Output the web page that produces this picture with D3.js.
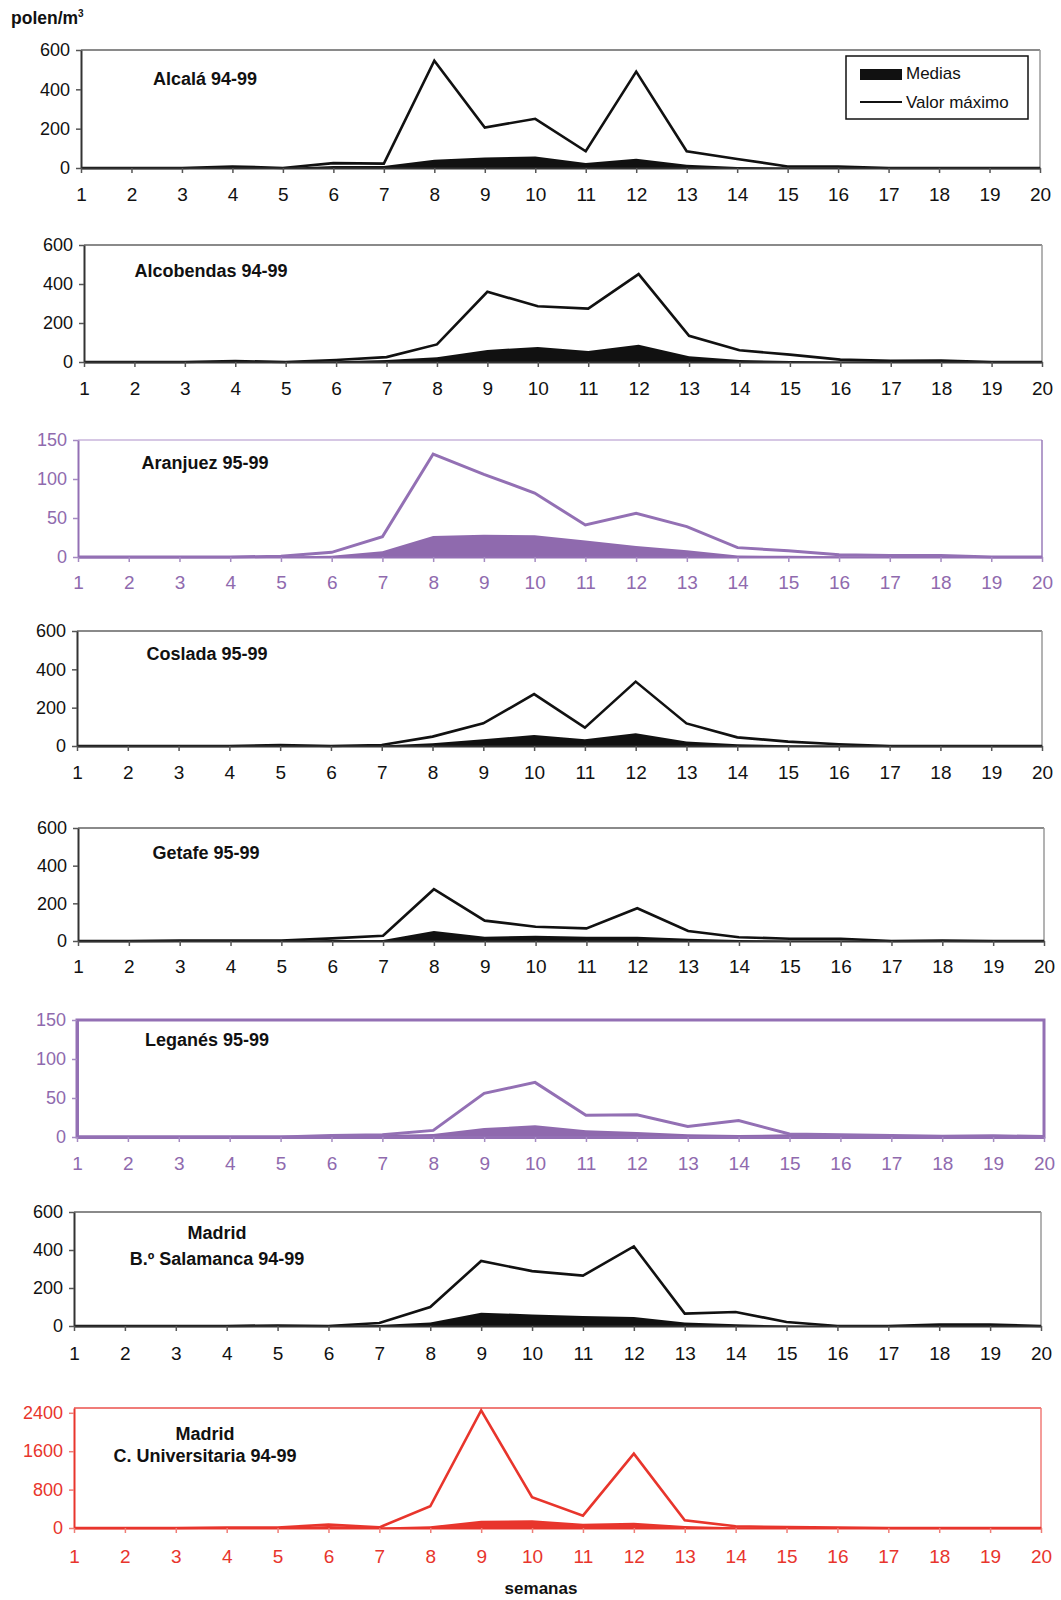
<!DOCTYPE html>
<html>
<head>
<meta charset="utf-8">
<script src="https://cdnjs.cloudflare.com/ajax/libs/d3/7.8.5/d3.min.js"></script>
<style>
	body { margin: 0; background: #fff; }
	svg { display: block; font-family: "Liberation Sans", Arial, sans-serif; }
</style>
</head>
<body>
<div id="chart"></div>
<script>
// Weeks (x axis)
var semanas = [1, 2, 3, 4, 5, 6, 7, 8, 9, 10, 11, 12, 13, 14, 15, 16, 17, 18, 19, 20];

// Alcalá 94-99
var alcalaMax    = [0, 0, 0, 8, 0, 25, 22, 546, 206, 250, 85, 490, 85, 46, 8, 8, 0, 0, 0, 0];
var alcalaMedias = [0, 0, 0, 3, 0, 10, 10, 42, 54, 59, 25, 47, 17, 5, 2, 2, 0, 0, 0, 0];

// Alcobendas 94-99
var alcobendasMax    = [0, 0, 0, 5, 0, 10, 25, 90, 360, 286, 274, 451, 134, 60, 38, 12, 6, 8, 0, 0];
var alcobendasMedias = [0, 0, 0, 2, 0, 4, 10, 25, 62, 77, 57, 89, 29, 10, 5, 3, 3, 4, 0, 0];

// Aranjuez 95-99
var aranjuezMax    = [0, 0, 0, 0, 1, 6, 26, 132, 106, 82, 41, 56, 39, 12, 8, 3, 2, 2, 0, 0];
var aranjuezMedias = [0, 0, 0, 0, 0.5, 1.5, 7.5, 27, 28.5, 28, 21, 14, 8.5, 2, 1.5, 1, 0.5, 0.5, 0, 0];

// Coslada 95-99
var cosladaMax    = [0, 0, 0, 0, 5, 0, 5, 49, 118, 271, 96, 336, 118, 45, 23, 9, 0, 0, 0, 0];
var cosladaMedias = [0, 0, 0, 0, 2, 0, 3, 14, 35, 57, 35, 66, 24, 9, 4, 2, 0, 0, 0, 0];

// Getafe 95-99
var getafeMax    = [0, 0, 2, 2, 2, 14, 28, 275, 108, 76, 67, 174, 53, 20, 12, 12, 0, 2, 0, 0];
var getafeMedias = [0, 0, 0, 0, 0, 5, 5, 53, 23, 28, 23, 23, 12, 5, 3, 3, 0, 0, 0, 0];

// Leganés 95-99
var leganesMax    = [0, 0, 0, 0, 0, 2, 3, 8.5, 56, 70, 28, 28.5, 13.6, 21, 4, 3, 2, 1, 1.7, 0.5];
var leganesMedias = [0, 0, 0, 0, 0, 1.5, 2.5, 4, 11.5, 15, 8.5, 6.4, 3.4, 2.6, 3.4, 2.5, 1.7, 0.5, 1, 0];

// Madrid B.º Salamanca 94-99
var salamancaMax    = [0, 0, 0, 0, 3, 0, 16, 100, 342, 289, 265, 419, 65, 74, 21, 0, 0, 7, 7, 0];
var salamancaMedias = [0, 0, 0, 0, 1, 0, 5, 18, 70, 61, 53, 47, 18, 9, 3, 0, 0, 2, 2, 0];

// Madrid C. Universitaria 94-99
var universitariaMax    = [0, 0, 0, 10, 10, 70, 14, 452, 2450, 640, 257, 1550, 160, 35, 20, 10, 0, 0, 0, 0];
var universitariaMedias = [0, 0, 0, 5, 5, 40, 10, 35, 153, 160, 90, 111, 42, 15, 10, 5, 0, 0, 0, 0];

// Tick labels of the y axes
var ticks600  = [0, 200, 400, 600];
var ticks150  = [0, 50, 100, 150];
var ticks2400 = [0, 800, 1600, 2400];

// Colour schemes
var estilos = {
	negro:  { line: "#111", fill: "#111", text: "#111", axis: "#333", tick: "#555", frameTop: "#8a8a8a", frameRight: "#9a9a9a", lineWidth: 2.6 },
	morado: { line: "#9370b4", fill: "#8f6aae", text: "#8f6aae", axis: "#9370b4", tick: "#a58bc2", frameTop: "#d6c7e4", frameRight: "#9a7cba", lineWidth: 3 },
	rojo:   { line: "#e8352c", fill: "#e8352c", text: "#e8352c", axis: "#e8352c", tick: "#ef7d76", frameTop: "#f07c78", frameRight: "#f07c78", lineWidth: 2.6 }
};

// Panel layout
var panels = [
	{ title: ["Alcalá 94-99"], max: alcalaMax, medias: alcalaMedias, yTop: 600, ticks: ticks600, estilo: "negro",
	  left: 81, right: 1040, top: 50, zero: 168, labelDy: 27, titleX: 205, titleY: [78], legend: true },
	{ title: ["Alcobendas 94-99"], max: alcobendasMax, medias: alcobendasMedias, yTop: 600, ticks: ticks600, estilo: "negro",
	  left: 84, right: 1042, top: 245, zero: 362, labelDy: 27, titleX: 211, titleY: [270] },
	{ title: ["Aranjuez 95-99"], max: aranjuezMax, medias: aranjuezMedias, yTop: 150, ticks: ticks150, estilo: "morado",
	  left: 78, right: 1042, top: 440, zero: 557, labelDy: 26, titleX: 205, titleY: [462] },
	{ title: ["Coslada 95-99"], max: cosladaMax, medias: cosladaMedias, yTop: 600, ticks: ticks600, estilo: "negro",
	  left: 77, right: 1042, top: 631, zero: 746, labelDy: 27, titleX: 207, titleY: [653] },
	{ title: ["Getafe 95-99"], max: getafeMax, medias: getafeMedias, yTop: 600, ticks: ticks600, estilo: "negro",
	  left: 78, right: 1044, top: 828, zero: 941, labelDy: 26, titleX: 206, titleY: [852] },
	{ title: ["Leganés 95-99"], max: leganesMax, medias: leganesMedias, yTop: 150, ticks: ticks150, estilo: "morado",
	  left: 77, right: 1044, top: 1020, zero: 1137, labelDy: 27, titleX: 207, titleY: [1039], fullFrame: true },
	{ title: ["Madrid", "B.º Salamanca 94-99"], max: salamancaMax, medias: salamancaMedias, yTop: 600, ticks: ticks600, estilo: "negro",
	  left: 74, right: 1041, top: 1212, zero: 1326, labelDy: 28, titleX: 217, titleY: [1232, 1258] },
	{ title: ["Madrid", "C. Universitaria 94-99"], max: universitariaMax, medias: universitariaMedias, yTop: 2500, ticks: ticks2400, estilo: "rojo",
	  left: 74, right: 1041, top: 1408, zero: 1528, labelDy: 29, titleX: 205, titleY: [1433, 1455] }
];

var svg = d3.select("#chart")
	.append("svg")
	.attr("width", 1061)
	.attr("height", 1600);

// y axis unit
var unit = svg.append("text")
	.attr("x", 11)
	.attr("y", 24)
	.style("font-size", "17.5px")
	.style("font-weight", "bold")
	.attr("fill", "#111");
unit.append("tspan").text("polen/m");
unit.append("tspan").text("3").style("font-size", "10px").attr("dy", -7);

// x axis title
svg.append("text")
	.attr("x", 541)
	.attr("y", 1594)
	.attr("text-anchor", "middle")
	.style("font-size", "17px")
	.style("font-weight", "bold")
	.attr("fill", "#111")
	.text("semanas");

panels.forEach(function(p)
{
	var st = estilos[p.estilo];

	var x = d3.scaleLinear().domain([1, 20]).range([p.left, p.right]);
	var y = d3.scaleLinear().domain([0, p.yTop]).range([p.zero, p.top]);

	var g = svg.append("g");

	// Plot area frame
	if (p.fullFrame)
	{
		g.append("rect")
			.attr("x", p.left)
			.attr("y", p.top)
			.attr("width", p.right - p.left)
			.attr("height", p.zero - p.top)
			.attr("fill", "none")
			.attr("stroke", st.line)
			.attr("stroke-width", 3);
	}
	else
	{
		g.append("line")
			.attr("x1", p.left).attr("x2", p.right)
			.attr("y1", p.top).attr("y2", p.top)
			.attr("stroke", st.frameTop)
			.attr("stroke-width", 2);
		g.append("line")
			.attr("x1", p.right).attr("x2", p.right)
			.attr("y1", p.top).attr("y2", p.zero)
			.attr("stroke", st.frameRight)
			.attr("stroke-width", 1.5);
	}

	// Medias (area)
	var area = d3.area()
		.x(function(d, i) { return x(semanas[i]); })
		.y0(y(0))
		.y1(function(d) { return y(d); });

	g.append("path")
		.datum(p.medias)
		.attr("d", area)
		.attr("fill", st.fill);

	// Valor máximo (line)
	var line = d3.line()
		.x(function(d, i) { return x(semanas[i]); })
		.y(function(d) { return y(d); });

	g.append("path")
		.datum(p.max)
		.attr("d", line)
		.attr("fill", "none")
		.attr("stroke", st.line)
		.attr("stroke-width", st.lineWidth)
		.attr("stroke-linejoin", "miter");

	// Axes
	var yAxis = g.append("g")
		.attr("transform", "translate(" + p.left + ",0)")
		.call(d3.axisLeft(y).tickValues(p.ticks).tickFormat(d3.format("d"))
			.tickSize(5).tickSizeOuter(0).tickPadding(6));

	var xAxis = g.append("g")
		.attr("transform", "translate(0," + p.zero + ")")
		.call(d3.axisBottom(x).tickValues(semanas).tickFormat(d3.format("d"))
			.tickSize(5).tickSizeOuter(0).tickPadding(p.labelDy - 12));

	[yAxis, xAxis].forEach(function(a)
	{
		a.attr("font-family", null).attr("font-size", null);
		a.select(".domain").attr("stroke", st.axis).attr("stroke-width", p.fullFrame ? 3 : 2);
		a.selectAll(".tick line").attr("stroke", st.tick).attr("stroke-width", 1.5);
		a.selectAll(".tick text").attr("fill", st.text);
	});
	yAxis.selectAll(".tick text").style("font-size", "18px");
	xAxis.selectAll(".tick text").style("font-size", "19px");

	// Title
	p.title.forEach(function(t, i)
	{
		g.append("text")
			.attr("x", p.titleX)
			.attr("y", p.titleY[i] + 6.5)
			.attr("text-anchor", "middle")
			.style("font-size", "18px")
			.style("font-weight", "bold")
			.attr("fill", "#111")
			.text(t);
	});

	// Legend (first panel only)
	if (p.legend)
	{
		var lg = g.append("g");
		lg.append("rect")
			.attr("x", 846).attr("y", 56)
			.attr("width", 182).attr("height", 63)
			.attr("fill", "#fff")
			.attr("stroke", "#111")
			.attr("stroke-width", 1.5);
		lg.append("rect")
			.attr("x", 860).attr("y", 69)
			.attr("width", 42).attr("height", 11)
			.attr("fill", st.fill);
		lg.append("line")
			.attr("x1", 860).attr("x2", 902)
			.attr("y1", 102).attr("y2", 102)
			.attr("stroke", st.line)
			.attr("stroke-width", 2.2);
		lg.append("text")
			.attr("x", 906).attr("y", 79)
			.style("font-size", "17px")
			.attr("fill", "#111")
			.text("Medias");
		lg.append("text")
			.attr("x", 906).attr("y", 108)
			.style("font-size", "17px")
			.attr("fill", "#111")
			.text("Valor máximo");
	}
});
</script>
</body>
</html>
